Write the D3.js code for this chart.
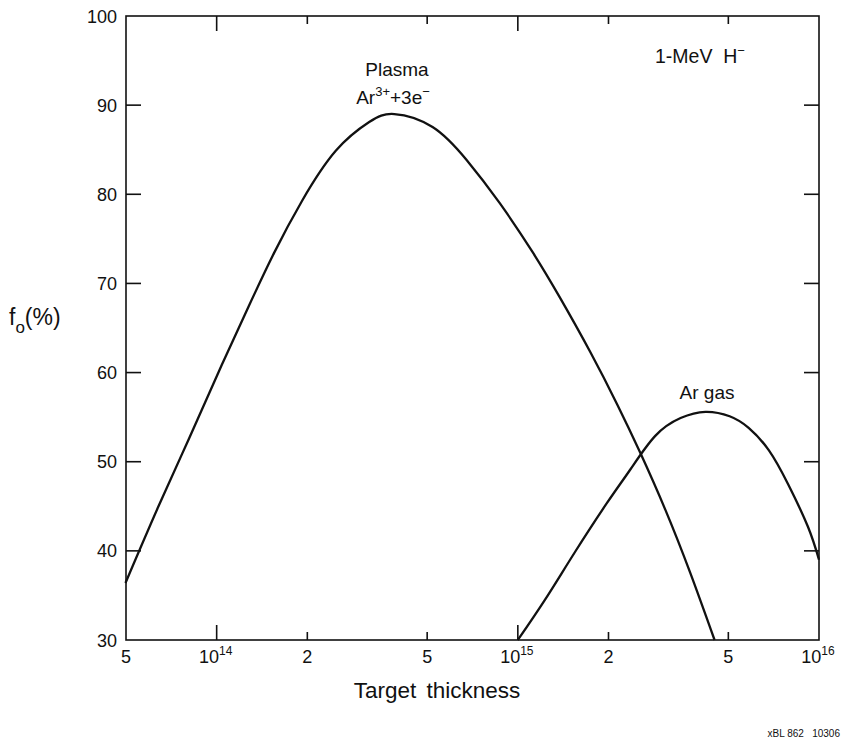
<!DOCTYPE html>
<html>
<head>
<meta charset="utf-8">
<script src="https://cdn.jsdelivr.net/npm/d3@7/dist/d3.min.js"></script>
<style>
  html, body { margin: 0; padding: 0; background: #fff; }
  svg { display: block; font-family: "Liberation Sans", Arial, Helvetica, sans-serif; }
</style>
</head>
<body>
<svg id="chart" width="846" height="740"></svg>
<script>
// ---- data ----
const plasmaThickness = [4.98e13, 6.41e13, 8.07e13, 1.016e14, 1.28e14, 1.55e14, 1.92e14, 2.49e14, 3.21e14, 3.89e14,
                         5.21e14, 6.76e14, 8.71e14, 1.12e15, 1.38e15, 1.74e15, 2.14e15, 2.55e15, 3.09e15, 3.74e15, 4.50e15];
const plasmaF0 =        [36.4, 45.0, 52.5, 60.1, 67.5, 73.4, 79.25, 84.9, 88.1, 89.0,
                         87.55, 83.85, 79.0, 73.5, 68.4, 62.3, 56.4, 51.0, 44.6, 37.5, 30.0];
const gasThickness = [1.0e15, 1.23e15, 1.55e15, 1.98e15, 2.36e15, 2.86e15, 3.47e15, 4.20e15, 5.05e15, 5.84e15, 6.81e15, 7.89e15, 9.19e15, 1.0e16];
const gasF0 =        [30.0, 34.5, 39.9, 45.4, 49.1, 52.9, 54.9, 55.6, 55.1, 53.8, 51.3, 47.5, 42.7, 39.0];

const yTicks = [30, 40, 50, 60, 70, 80, 90, 100];
const xTickValues = [5e13, 1e14, 2e14, 5e14, 1e15, 2e15, 5e15, 1e16];
const xTickMantissa = ["5", "10", "2", "5", "10", "2", "5", "10"];
const xTickExponent = ["", "14", "", "", "15", "", "", "16"];
const xMajor = [false, true, false, false, true, false, false, true];

(function () {
// ---- layout ----
const svg = d3.select("#chart");
const pLeft = 126, pRight = 819, pTop = 16, pBottom = 640;
const x = d3.scaleLog().domain([5e13, 1e16]).range([pLeft, pRight]);
const y = d3.scaleLinear().domain([30, 100]).range([pBottom, pTop]);
const ink = "#111";

// frame
svg.append("rect").attr("x", pLeft).attr("y", pTop).attr("width", pRight - pLeft).attr("height", pBottom - pTop)
  .attr("fill", "none").attr("stroke", ink).attr("stroke-width", 1.6);

// y ticks (left and right, inward)
yTicks.forEach(v => {
  if (v === 30 || v === 100) return;
  svg.append("line").attr("x1", pLeft).attr("x2", pLeft + 15).attr("y1", y(v)).attr("y2", y(v))
    .attr("stroke", ink).attr("stroke-width", 1.6);
  svg.append("line").attr("x1", pRight).attr("x2", pRight - 15).attr("y1", y(v)).attr("y2", y(v))
    .attr("stroke", ink).attr("stroke-width", 1.6);
});
yTicks.forEach(v => {
  svg.append("text").attr("x", pLeft - 9).attr("y", y(v) + 6.5).attr("text-anchor", "end")
    .attr("font-size", 18).attr("fill", ink).text(v);
});

// x ticks (bottom and top, inward)
xTickValues.forEach((v, i) => {
  if (i === 0 || i === xTickValues.length - 1) return;
  const len = xMajor[i] ? 15 : 8;
  svg.append("line").attr("x1", x(v)).attr("x2", x(v)).attr("y1", pBottom).attr("y2", pBottom - len)
    .attr("stroke", ink).attr("stroke-width", 1.6);
  svg.append("line").attr("x1", x(v)).attr("x2", x(v)).attr("y1", pTop).attr("y2", pTop + len)
    .attr("stroke", ink).attr("stroke-width", 1.6);
});
xTickValues.forEach((v, i) => {
  const t = svg.append("text").attr("y", 663).attr("font-size", 18).attr("fill", ink);
  if (xTickExponent[i]) {
    t.attr("x", x(v) - 1).attr("text-anchor", "middle");
    t.append("tspan").text(xTickMantissa[i]);
    t.append("tspan").attr("font-size", 12).attr("dy", -8).text(xTickExponent[i]);
  } else {
    t.attr("x", x(v)).attr("text-anchor", "middle").text(xTickMantissa[i]);
  }
});

// curves
const line = d3.line().x(d => x(d[0])).y(d => y(d[1])).curve(d3.curveNatural);
svg.append("path").datum(plasmaThickness.map((t, i) => [t, plasmaF0[i]]))
  .attr("d", line).attr("fill", "none").attr("stroke", ink).attr("stroke-width", 2.3)
  .attr("stroke-linejoin", "round");
svg.append("path").datum(gasThickness.map((t, i) => [t, gasF0[i]]))
  .attr("d", line).attr("fill", "none").attr("stroke", ink).attr("stroke-width", 2.3)
  .attr("stroke-linejoin", "round");

// labels
svg.append("text").attr("x", 437).attr("y", 698).attr("text-anchor", "middle").attr("font-size", 22.5)
  .attr("fill", ink).attr("word-spacing", 4).text("Target thickness");

const yl = svg.append("text").attr("x", 9).attr("y", 325).attr("font-size", 23).attr("fill", ink);
yl.append("tspan").text("f");
yl.append("tspan").attr("font-size", 17).attr("dy", 8).text("o");
yl.append("tspan").attr("dy", -8).text("(%)");

svg.append("text").attr("x", 397).attr("y", 76).attr("text-anchor", "middle").attr("font-size", 19)
  .attr("fill", ink).text("Plasma");
const ar = svg.append("text").attr("x", 393).attr("y", 104).attr("text-anchor", "middle").attr("font-size", 19).attr("fill", ink);
ar.append("tspan").text("Ar");
ar.append("tspan").attr("font-size", 13).attr("dy", -8).text("3+");
ar.append("tspan").attr("dy", 8).text("+3e");
ar.append("tspan").attr("font-size", 13).attr("dy", -8).text("−");

svg.append("text").attr("x", 707).attr("y", 399).attr("text-anchor", "middle").attr("font-size", 19)
  .attr("fill", ink).text("Ar gas");

const mev = svg.append("text").attr("x", 655).attr("y", 63).attr("font-size", 19.5).attr("fill", ink);
mev.append("tspan").text("1-MeV\u00a0\u00a0H");
mev.append("tspan").attr("font-size", 13).attr("dy", -8).text("−");

svg.append("text").attr("x", 840).attr("y", 737).attr("text-anchor", "end").attr("font-size", 10)
  .attr("fill", ink).text("xBL 862\u00a0\u00a0\u00a010306");
})();
</script>
</body>
</html>
